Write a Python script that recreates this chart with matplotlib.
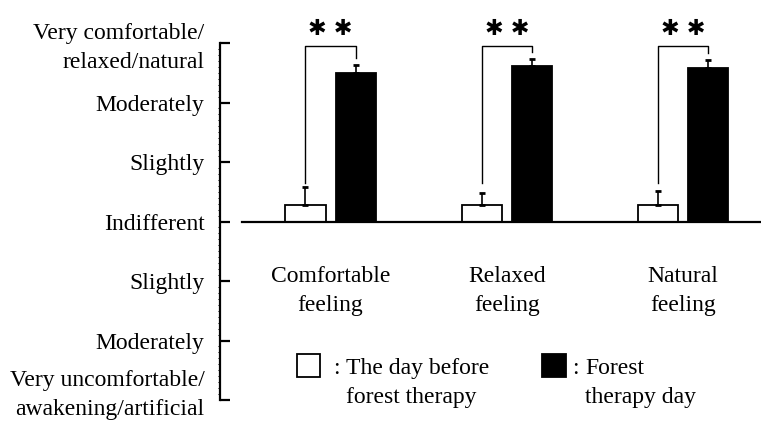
import numpy as np
import matplotlib
matplotlib.use("Agg")
from matplotlib import pyplot as plt
from matplotlib.patches import Rectangle
from matplotlib.transforms import ScaledTranslation

plt.rcParams['font.family'] = ['Liberation Serif', 'DejaVu Serif']

# data
categories = ["Comfortable\nfeeling", "Relaxed\nfeeling", "Natural\nfeeling"]
before = [0.28, 0.28, 0.28]
before_err = [0.30, 0.20, 0.23]
forest = [2.50, 2.61, 2.58]
forest_err = [0.125, 0.12, 0.13]
tick_values = [-3, -2, -1, 0, 1, 2, 3]
tick_labels = ["Very uncomfortable/\nawakening/artificial", "Moderately", "Slightly",
               "Indifferent", "Slightly", "Moderately",
               "Very comfortable/\nrelaxed/natural"]

W, H = 761, 423
fig = plt.figure(figsize=(W / 100, H / 100), dpi=100)

def fx(px):
    return px / W

def fy(py):
    return 1 - py / H

# axes placed so the spine runs from y=43 to y=400 px, starting at x=220 px
ax = fig.add_axes([fx(220), fy(400), 1 - fx(220), fy(43) - fy(400)])

x = np.arange(len(categories))
width = 0.227
offset = 0.142

ax.bar(x - offset, before, width, color='white', edgecolor='black', linewidth=1.3,
       yerr=[np.zeros(3), before_err], error_kw=dict(ecolor='black', elinewidth=1.2, capsize=2.5, capthick=2))
ax.bar(x + offset, forest, width, color='black', edgecolor='black', linewidth=1.3,
       yerr=[np.zeros(3), forest_err], error_kw=dict(ecolor='black', elinewidth=1.2, capsize=2.5, capthick=2))

# significance brackets
for i in range(len(categories)):
    right_bottom = forest[i] + forest_err[i] + 0.12
    ax.plot([x[i] - offset, x[i] - offset, x[i] + offset, x[i] + offset],
            [0.65, 2.95, 2.95, right_bottom], color='black', lw=1.0, clip_on=False)
    ax.text(x[i], 3.23, "✱ ✱", ha='center', va='center', fontsize=16,
            family=['DejaVu Sans'], clip_on=False)
    ax.text(x[i], -1.16, categories[i], ha='center', va='center', fontsize=17,
            linespacing=1.5)

ax.set_xlim(-0.627, 2.442)
ax.set_ylim(-3, 3)

ax.spines['top'].set_visible(False)
ax.spines['right'].set_visible(False)
ax.spines['left'].set_linewidth(1.6)
ax.spines['left'].set_bounds(-3, 3)
ax.spines['bottom'].set_position(('data', 0))
ax.spines['bottom'].set_bounds(-0.502, 2.442)
ax.spines['bottom'].set_linewidth(1.6)
ax.set_xticks([])

ax.set_yticks(tick_values)
ax.set_yticklabels(tick_labels, fontsize=17, linespacing=1.5)
ax.set_yticks(np.arange(-3, 3.01, 0.1), minor=True)
ax.tick_params(axis='y', which='major', direction='in', length=7.5, width=1.6, pad=11)
ax.tick_params(axis='y', which='minor', direction='out', length=1.5, width=0.7)
ax.patch.set_alpha(0)

# nudge the two-line end labels like in the original
labels = ax.get_yticklabels()
labels[0].set_transform(labels[0].get_transform() + ScaledTranslation(0, 12 / 100, fig.dpi_scale_trans))
labels[-1].set_transform(labels[-1].get_transform() + ScaledTranslation(0, 2 / 100, fig.dpi_scale_trans))

# legend drawn by hand
fig.patches.append(Rectangle((fx(297), fy(377)), fx(23), fy(354) - fy(377), transform=fig.transFigure,
                             facecolor='white', edgecolor='black', linewidth=1.3))
fig.text(fx(333), fy(368), ":", fontsize=17, va='center', ha='left')
fig.text(fx(346), fy(383), "The day before\nforest therapy", fontsize=17, va='center', ha='left',
         linespacing=1.5)
fig.patches.append(Rectangle((fx(542), fy(377)), fx(24), fy(354) - fy(377), transform=fig.transFigure,
                             facecolor='black', edgecolor='black', linewidth=1.3))
fig.text(fx(572), fy(368), ":", fontsize=17, va='center', ha='left')
fig.text(fx(585), fy(383), "Forest\ntherapy day", fontsize=17, va='center', ha='left',
         linespacing=1.5)

fig.savefig("out.png", dpi=100)
